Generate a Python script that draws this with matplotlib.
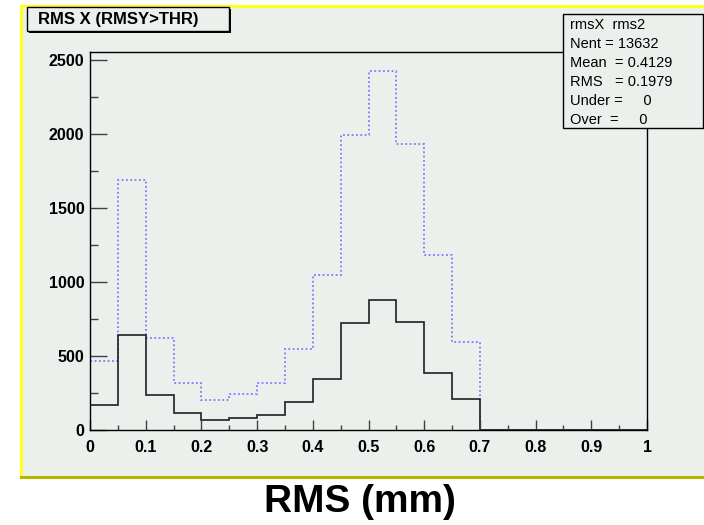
# ROOT-style histogram: RMS X (RMSY>THR)
import matplotlib
matplotlib.use("Agg")
import matplotlib.pyplot as plt
import numpy as np
from matplotlib.patches import Rectangle
from matplotlib.ticker import MultipleLocator

plt.rcParams['font.family'] = ['Liberation Sans', 'DejaVu Sans']

# bin edges (0..1, 20 bins of 0.05)
bin_edges = np.linspace(0.0, 1.0, 21)

# black solid histogram (selected)
counts_sel = [169, 642, 236, 113, 65, 79, 99, 187, 345, 725,
              878, 730, 383, 207, 0, 0, 0, 0, 0, 0]
# blue dotted histogram (all)
counts_all = [466, 1685, 622, 315, 203, 241, 315, 547, 1045, 1995,
              2425, 1930, 1180, 597, 0, 0, 0, 0, 0, 0]

stats_lines = ["rmsX  rms2", "Nent = 13632", "Mean  = 0.4129",
               "RMS   = 0.1979", "Under =     0", "Over  =     0"]
title = "RMS X (RMSY>THR)"
xlabel = "RMS (mm)"

W, H = 704, 525
fig = plt.figure(figsize=(W / 100, H / 100), dpi=100, facecolor='white')
bg = '#ecf0ec'

def fx(px):
    return px / W

def fy(py):
    return 1 - py / H

# pad background and its border
fig.patches.append(Rectangle((fx(21), fy(477)), fx(704 - 21), (477 - 6) / H,
                             transform=fig.transFigure, facecolor=bg,
                             edgecolor='none', zorder=-1))
fig.add_artist(plt.Line2D([fx(21), fx(704)], [fy(6), fy(6)], color='#ffff20', lw=2.2))
fig.add_artist(plt.Line2D([fx(21), fx(21)], [fy(6), fy(477)], color='#ffff20', lw=2.2))
fig.add_artist(plt.Line2D([fx(21), fx(704)], [fy(477), fy(477)], color='#b4b400', lw=2.2))

ax = fig.add_axes([fx(90), fy(430), fx(647 - 90), (430 - 52) / H])
ax.set_zorder(1)
ax.set_facecolor(bg)

ax.stairs(counts_all, bin_edges, color='#7b7bff', lw=1.3, linestyle=(0, (1, 1.4)))
ax.stairs(counts_sel, bin_edges, color='#202020', lw=1.2)

ax.set_xlim(0, 1)
ax.set_ylim(0, 2552)
ax.xaxis.set_minor_locator(MultipleLocator(0.05))
ax.yaxis.set_major_locator(MultipleLocator(500))
ax.yaxis.set_minor_locator(MultipleLocator(250))
ax.set_xticks(np.linspace(0, 1, 11))
ax.set_xticklabels(['0', '0.1', '0.2', '0.3', '0.4', '0.5', '0.6', '0.7', '0.8', '0.9', '1'])
ax.tick_params(axis='both', which='both', direction='in', color='#404040',
               labelsize=11.5, top=False, right=False)
ax.tick_params(axis='y', which='major', length=12, width=1, pad=4)
ax.tick_params(axis='y', which='minor', length=6, width=1)
ax.tick_params(axis='x', which='major', length=7, width=1, pad=7)
ax.tick_params(axis='x', which='minor', length=3.5, width=1)
for lab in ax.get_xticklabels() + ax.get_yticklabels():
    lab.set_fontweight('bold')
for sp in ax.spines.values():
    sp.set_color('black')
    sp.set_linewidth(1)

# title box with shadow
fig.patches.append(Rectangle((fx(29), fy(33)), fx(229 - 27), (31 - 7) / H,
                             transform=fig.transFigure, facecolor='black',
                             edgecolor='none', zorder=3))
fig.patches.append(Rectangle((fx(27), fy(31)), fx(229 - 27), (31 - 7) / H,
                             transform=fig.transFigure, facecolor=bg,
                             edgecolor='black', lw=1, zorder=4))
fig.text(fx(38), fy(19.5), title, fontsize=12, fontweight='bold',
         va='center', ha='left', zorder=5)

# stats box with shadow
fig.patches.append(Rectangle((fx(565), fy(129)), fx(704 - 563), (128 - 14) / H,
                             transform=fig.transFigure, facecolor='black',
                             edgecolor='none', zorder=3))
fig.patches.append(Rectangle((fx(563), fy(128)), fx(703 - 563), (128 - 14) / H,
                             transform=fig.transFigure, facecolor=bg,
                             edgecolor='black', lw=1, zorder=4))
for i, line in enumerate(stats_lines):
    fig.text(fx(570), fy(25 + 19 * i), line, fontsize=10.5,
             va='center', ha='left', zorder=5)

fig.text(fx(360), fy(502), xlabel, fontsize=28, fontweight='bold',
         ha='center', va='center')

fig.savefig('out.png', dpi=100, facecolor='white')
